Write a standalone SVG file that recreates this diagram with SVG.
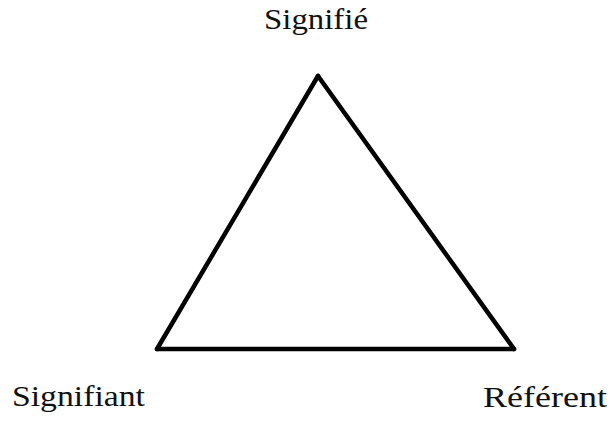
<svg xmlns="http://www.w3.org/2000/svg" width="612" height="421" viewBox="0 0 612 421">
<style>
.lbl{font-family:"Liberation Serif","DejaVu Serif",serif;font-size:30px;fill:#111}
.edge{stroke:#000;stroke-width:4.5;fill:none;stroke-linecap:round}
</style>
<rect width="612" height="421" fill="#fff"/>
<g id="connectors">
<line class="edge" x1="318" y1="76" x2="157" y2="349"/>
<line class="edge" x1="318" y1="76" x2="514" y2="349"/>
<line class="edge" x1="157" y1="349" x2="514" y2="349"/>
</g>
<g id="signifie"><text class="lbl" x="264" y="29" textLength="104" lengthAdjust="spacingAndGlyphs">Signifié</text></g>
<g id="signifiant"><text class="lbl" x="12" y="406" textLength="133" lengthAdjust="spacingAndGlyphs">Signifiant</text></g>
<g id="referent"><text class="lbl" x="483" y="407" textLength="124" lengthAdjust="spacingAndGlyphs">Référent</text></g>
</svg>
